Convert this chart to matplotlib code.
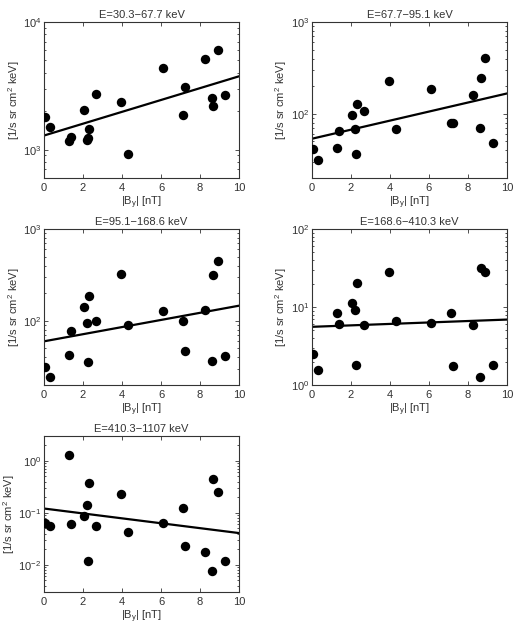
import numpy as np
import matplotlib
matplotlib.use("Agg")
import matplotlib.pyplot as plt

plt.rcParams['font.family'] = ['Liberation Sans', 'DejaVu Sans']
plt.rcParams['mathtext.fontset'] = 'custom'
plt.rcParams['mathtext.rm'] = 'Liberation Sans'
plt.rcParams['mathtext.it'] = 'Liberation Sans:italic'
plt.rcParams['font.size'] = 8

# |By| values, same for every energy channel
by = [0.04, 0.31, 1.28, 1.37, 2.06, 2.2, 2.29, 2.27, 2.68, 3.93, 4.3,
      6.1, 7.13, 7.24, 8.26, 8.61, 8.66, 8.9, 9.3]

titles = ["E=30.3\u221267.7 keV", "E=67.7\u221295.1 keV", "E=95.1\u2212168.6 keV",
          "E=168.6\u2212410.3 keV", "E=410.3\u22121107 keV"]

flux1 = [1810, 1500, 1164, 1259, 2055, 1200, 1456, 1244, 2733, 2376, 919,
         4355, 1866, 3105, 5140, 2560, 2198, 6050, 2686]
flux2 = [41.8, 31.6, 42.5, 65.5, 96, 68, 129, 36.2, 106, 227, 68,
         184, 80, 80, 159, 70.7, 247, 401, 48.3]
flux3 = [31.6, 24.7, 42.3, 78, 140, 93.6, 186, 35.3, 100, 327, 89,
         127, 100, 46.7, 131, 36.7, 316, 448, 41.2]
flux4 = [2.5, 1.55, 8.4, 6.14, 11.2, 9.2, 20.4, 1.8, 5.85, 28.4, 6.7,
         6.3, 8.3, 1.73, 5.95, 1.28, 31.4, 27.9, 1.83]
flux5 = [0.0625, 0.0556, 1.28, 0.0617, 0.0877, 0.142, 0.38, 0.0116, 0.0556, 0.227, 0.042,
         0.0625, 0.126, 0.0231, 0.0175, 0.0077, 0.446, 0.256, 0.0121]
fluxes = [flux1, flux2, flux3, flux4, flux5]

# exponential fit: flux = a * 10**(b*By)
fit_a = [1290, 53.5, 59.8, 5.57, 0.121]
fit_b = [0.0464, 0.0493, 0.0388, 0.0093, -0.0472]

ylims = [(600, 1e4), (20, 1e3), (20, 1e3), (1, 100), (0.003, 3)]
label_x = [-0.115, -0.115, -0.115, -0.115, -0.14]

col_left = [0.0848, 0.601]
row_bot = [0.7175, 0.3889, 0.0603]
w = 0.3757
h = 0.2476

fig = plt.figure(figsize=(5.19, 6.3), dpi=100)
grey = '#333333'

for k in range(5):
    r = k // 2
    c = k % 2
    ax = fig.add_axes([col_left[c], row_bot[r], w, h])
    ax.scatter(by, fluxes[k], s=46, color='black', zorder=3, linewidths=0)
    xx = np.array([0, 10])
    ax.plot(xx, fit_a[k] * 10 ** (fit_b[k] * xx), color='black', lw=1.6)
    ax.set_yscale('log')
    ax.set_xlim(0, 10)
    ax.set_ylim(*ylims[k])
    ax.set_xticks([0, 2, 4, 6, 8, 10])
    ax.set_title(titles[k], fontsize=8, color=grey, pad=3)
    ax.set_xlabel(r'|B$_\mathrm{y}$| [nT]', color=grey, labelpad=1)
    ax.set_ylabel(r'[1/s sr cm$^2$ keV]', color=grey)
    ax.yaxis.set_label_coords(label_x[k], 0.5)
    ax.tick_params(which='both', direction='in', top=True, right=True, colors=grey,
                   labelsize=8, width=0.6)
    ax.tick_params(axis='y', pad=2)
    ax.tick_params(which='major', length=3)
    ax.tick_params(which='minor', length=1.6)
    for s in ax.spines.values():
        s.set_color(grey)
        s.set_linewidth(0.8)

fig.savefig('out.png', dpi=100)
